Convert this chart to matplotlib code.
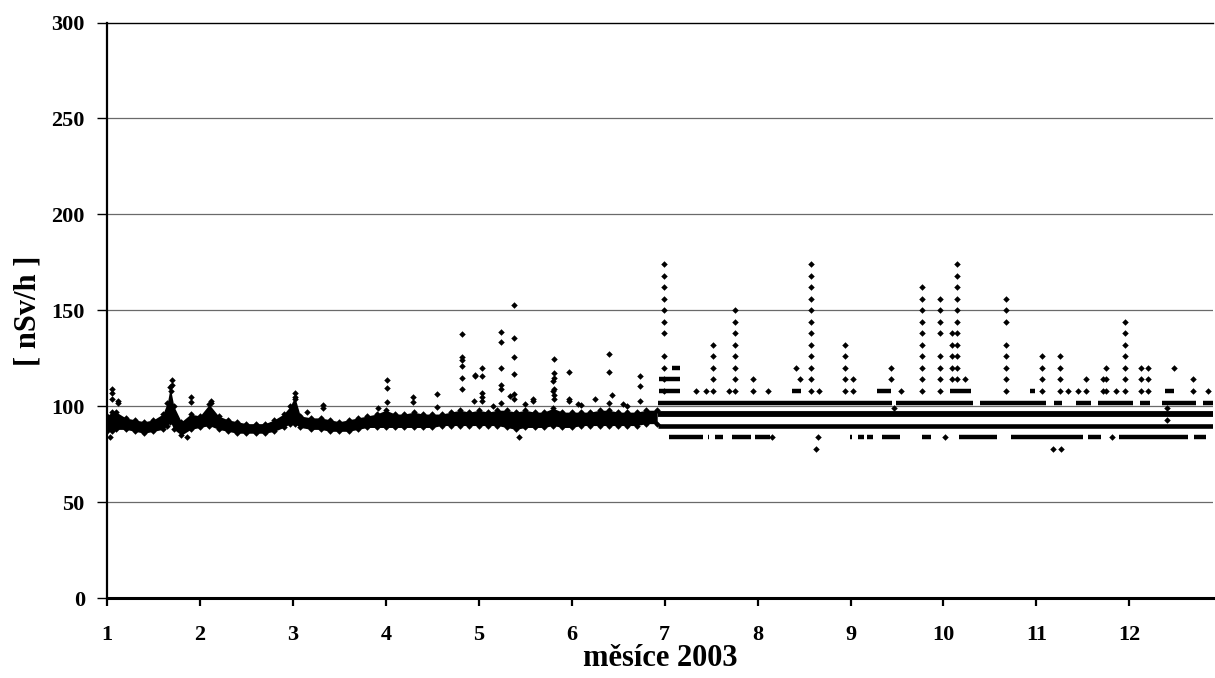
import numpy as np
import matplotlib
matplotlib.use("Agg")
import matplotlib.pyplot as plt

# first half of the year: continuous dose-rate cloud (lower / upper edge)
firstMonth = [1.00, 1.05, 1.10, 1.20, 1.30, 1.40, 1.50, 1.60, 1.65, 1.68, 1.72, 1.80,
              1.90, 2.00, 2.10, 2.20, 2.30, 2.40, 2.50, 2.60, 2.70, 2.80, 2.90, 2.97,
              3.02, 3.08, 3.20, 3.30, 3.40, 3.50, 3.60, 3.70, 3.80, 3.90, 4.00, 4.10,
              4.20, 4.30, 4.40, 4.50, 4.60, 4.70, 4.80, 4.90, 5.00, 5.10, 5.20, 5.30,
              5.40, 5.50, 5.60, 5.70, 5.80, 5.90, 6.00, 6.10, 6.20, 6.30, 6.40, 6.50,
              6.60, 6.70, 6.80, 6.92]
firstLow = [87, 87, 88, 88, 87, 86, 87, 88, 90, 92, 88, 85,
            88, 89, 90, 88, 87, 86, 86, 86, 86, 87, 89, 91,
            91, 89, 88, 88, 87, 87, 87, 88, 89, 89, 89, 89,
            89, 89, 89, 89, 90, 90, 90, 90, 90, 90, 90, 89,
            88, 89, 89, 89, 90, 89, 89, 90, 90, 90, 90, 90,
            90, 90, 91, 91]
firstHigh = [95, 97, 97, 94, 93, 92, 93, 96, 102, 110, 100, 92,
             96, 95, 101, 95, 93, 92, 91, 91, 91, 93, 96, 100,
             105, 95, 94, 94, 93, 92, 93, 94, 95, 96, 98, 96,
             96, 97, 96, 96, 96, 97, 98, 97, 98, 97, 98, 98,
             97, 98, 97, 97, 99, 97, 97, 97, 97, 98, 98, 97,
             97, 97, 98, 98]

# first half: isolated readings above / below the cloud
spikeMonth = [1.03, 1.05, 1.05, 1.05, 1.12, 1.12, 1.69, 1.70, 1.70, 1.86, 1.90, 1.90,
              2.12, 2.12, 3.02, 3.02, 3.15, 3.32, 3.32, 3.92, 4.01, 4.01, 4.01, 4.29,
              4.29, 4.55, 4.55, 4.82, 4.82, 4.82, 4.82, 4.82, 4.82, 4.95, 4.96, 4.96,
              5.03, 5.03, 5.03, 5.03, 5.03, 5.15, 5.24, 5.24, 5.24, 5.24, 5.24, 5.24,
              5.34, 5.38, 5.38, 5.38, 5.38, 5.38, 5.38, 5.43, 5.50, 5.58, 5.58, 5.81,
              5.81, 5.81, 5.80, 5.81, 5.80, 5.81, 5.81, 5.97, 5.97, 5.97, 6.07, 6.10,
              6.25, 6.40, 6.40, 6.40, 6.43, 6.55, 6.60, 6.73, 6.73, 6.73]
spikeValue = [84, 109, 107, 104, 103, 101.5, 108, 111, 113.5, 84, 105, 102.5,
              103, 102, 107, 104, 97, 100.7, 99, 99, 113.7, 109.7, 102.3, 105,
              102.4, 106.3, 99.5, 137.8, 125.8, 124.1, 121.1, 114.6, 108.9, 102.9, 115.8, 116.5,
              119.8, 115.8, 106.8, 104.7, 102.9, 100, 138.7, 133.6, 119.8, 111.1, 108.9, 101.7,
              105.4, 152.8, 135.7, 125.8, 117, 106.3, 103.6, 84.2, 101, 103.6, 102.7, 124.8,
              117.2, 114.9, 113.2, 108.9, 108.1, 105.9, 103.6, 118, 104, 103, 101, 100.5,
              104, 127.1, 118, 102, 105.9, 101, 100, 115.8, 110.7, 103]

# second half: quantised readings (6 nSv/h steps)
bandLevel = [90, 96]
bandStart = 6.93
bandEnd = 12.92

runStart = [6.93, 9.49, 10.39, 11.19, 11.43, 11.66, 12.11, 12.35, 12.79,
            7.05, 7.47, 7.54, 7.73, 7.97, 8.99, 9.08, 9.18, 9.34, 9.77, 10.17, 10.73,
            11.55, 11.89, 12.70,
            6.94, 8.37, 9.29, 10.07, 10.93, 12.38, 6.94, 7.08]
runEnd = [9.45, 10.32, 11.10, 11.28, 11.59, 12.04, 12.22, 12.72, 12.92,
          7.41, 7.48, 7.63, 7.93, 8.13, 9.02, 9.15, 9.24, 9.53, 9.87, 10.58, 11.50,
          11.69, 12.63, 12.82,
          7.16, 8.47, 9.44, 10.30, 10.99, 12.48, 7.16, 7.16]
runLevel = [102, 102, 102, 102, 102, 102, 102, 102, 102,
            84, 84, 84, 84, 84, 84, 84, 84, 84, 84, 84, 84,
            84, 84, 84,
            108, 108, 108, 108, 108, 108, 114, 120]

colMonth = [6.99, 7.34, 7.44, 7.52, 7.69, 7.76, 7.95, 8.11, 8.16, 8.41, 8.46, 8.58,
            8.63, 8.65, 8.66, 8.94, 9.03, 9.44, 9.47, 9.54, 9.77, 9.96, 10.02, 10.09,
            10.15, 10.23, 10.67, 11.06, 11.18, 11.25, 11.26, 11.34, 11.45, 11.53, 11.72,
            11.75, 11.81, 11.86, 11.95, 12.13, 12.20, 12.41, 12.48, 12.68, 12.85]
colLevels = [
    [108, 114, 120, 126, 138, 144, 150, 156, 162, 168, 174],
    [108], [108], [108, 114, 120, 126, 132], [108],
    [108, 114, 120, 126, 132, 138, 144, 150],
    [108, 114], [108], [84], [120], [114],
    [108, 114, 120, 126, 132, 138, 144, 150, 156, 162, 168, 174],
    [78], [84], [108], [108, 114, 120, 126, 132], [108, 114], [114, 120], [99], [108],
    [108, 114, 120, 126, 132, 138, 144, 150, 156, 162],
    [108, 114, 120, 126, 138, 144, 150, 156],
    [84], [114, 120, 126, 132, 138],
    [114, 120, 126, 132, 138, 144, 150, 156, 162, 168, 174],
    [114],
    [108, 114, 120, 126, 132, 144, 150, 156],
    [108, 114, 120, 126], [78], [108, 114, 120, 126], [78], [108], [108], [108, 114],
    [108, 114], [108, 114, 120], [84], [108],
    [108, 114, 120, 126, 132, 138, 144],
    [108, 114, 120], [108, 114, 120], [93, 99], [120], [108, 114], [108],
]

yTicks = [0, 50, 100, 150, 200, 250, 300]
xTicks = [1, 2, 3, 4, 5, 6, 7, 8, 9, 10, 11, 12]

plt.rcParams["font.family"] = ["Liberation Serif", "DejaVu Serif"]
plt.rcParams["font.weight"] = "bold"

fig = plt.figure(figsize=(12.15, 6.78), dpi=100)
ax = fig.add_axes([107 / 1215, 1 - 598.3 / 678, 1106 / 1215, 575.8 / 678])

# grid
for v in yTicks[1:-1]:
    ax.axhline(v, color="#6a6a6a", linewidth=0.9, zorder=1)

# first half
ax.fill_between(firstMonth, firstLow, firstHigh, color="black", linewidth=0, zorder=3)
ax.scatter(firstMonth, firstLow, marker="D", s=11, color="black", zorder=3, linewidths=0)
ax.scatter(firstMonth, firstHigh, marker="D", s=11, color="black", zorder=3, linewidths=0)
ax.scatter(spikeMonth, spikeValue, marker="D", s=11, color="black", zorder=4, linewidths=0)

# second half
ax.hlines(bandLevel[0], bandStart, bandEnd, color="black", linewidth=3.3, zorder=3)
ax.hlines(bandLevel[1], bandStart, bandEnd, color="black", linewidth=4.2, zorder=3)
ax.hlines(runLevel, runStart, runEnd, color="black", linewidth=3.2, zorder=3)

colX = []
colY = []
for m, levels in zip(colMonth, colLevels):
    colX += [m] * len(levels)
    colY += levels
ax.scatter(colX, colY, marker="D", s=11, color="black", zorder=4, linewidths=0)

ax.set_xlim(1, 12.9)
ax.set_ylim(0, 300)
ax.set_xticks(xTicks)
ax.set_yticks(yTicks)
ax.set_xticklabels([str(t) for t in xTicks], fontsize=16, fontweight="bold")
ax.set_yticklabels([str(t) for t in yTicks], fontsize=16, fontweight="bold")
ax.tick_params(axis="x", direction="out", length=6, width=1.6, pad=13)
ax.tick_params(axis="y", direction="out", length=7, width=1.0, pad=9)

ax.spines["right"].set_visible(False)
ax.spines["top"].set_linewidth(1.0)
ax.spines["left"].set_linewidth(1.6)
ax.spines["bottom"].set_linewidth(2.2)
for s in ax.spines.values():
    s.set_zorder(5)

ax.set_xlabel("měsíce 2003", fontsize=22, fontweight="bold")
ax.xaxis.set_label_coords(0.5, -0.079)
ax.set_ylabel("[ nSv/h ]", fontsize=22, fontweight="bold")
ax.yaxis.set_label_coords(-0.058, 0.5)

fig.savefig("out.png", dpi=100)
